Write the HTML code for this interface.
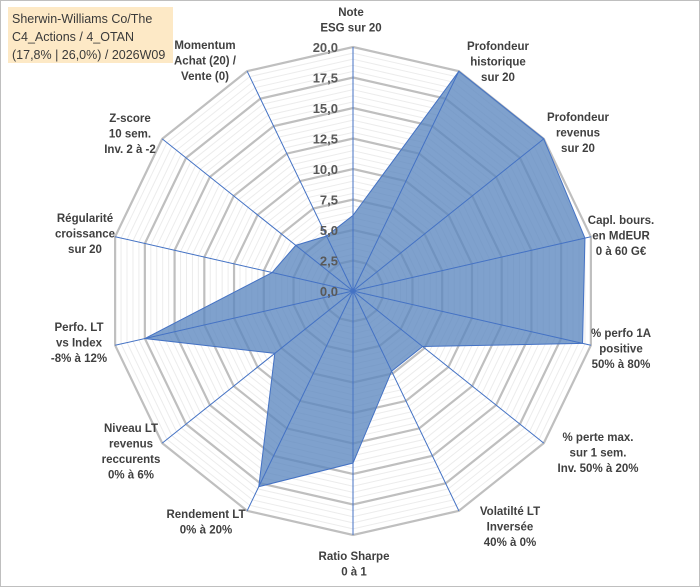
<!DOCTYPE html>
<html><head><meta charset="utf-8"><style>
body{margin:0;background:#fff}
#wrap{position:relative;width:700px;height:587px;overflow:hidden;font-family:"Liberation Sans",sans-serif}
svg{position:absolute;left:0;top:0}
.lbl{font-weight:bold;font-size:11.5px;fill:#404040}
.tick{font-weight:bold;font-size:13px;fill:#595959}
</style></head><body>
<div id="wrap">
<svg id="chart" width="700" height="587">
<rect x="0.5" y="0.5" width="699" height="586" fill="#fff" stroke="#bfbfbf"/>
<rect x="8" y="7" width="165" height="56" fill="#fde9c6"/>
<text x="12" y="23" font-size="12.5" fill="#3a3a3a">Sherwin-Williams Co/The</text>
<text x="12" y="41" font-size="12.5" fill="#3a3a3a">C4_Actions / 4_OTAN</text>
<text x="12" y="59" font-size="12.5" fill="#3a3a3a">(17,8% | 26,0%) / 2026W09</text>
<g id="grid"></g><g id="series"></g><g id="axes"></g><g id="ticks"></g><g id="labels"></g>
</svg>
</div>
<script>
const categories=[["Note","ESG sur 20"],["Profondeur","historique","sur 20"],["Profondeur","revenus","sur 20"],["Capl. bours.","en MdEUR","0 à 60 G€"],["% perfo 1A","positive","50% à 80%"],["% perte max.","sur 1 sem.","Inv. 50% à 20%"],["Volatilté LT","Inversée","40% à 0%"],["Ratio Sharpe","0 à 1"],["Rendement LT","0% à 20%"],["Niveau LT","revenus","reccurents","0% à 6%"],["Perfo. LT","vs Index","-8% à 12%"],["Régularité","croissance","sur 20"],["Z-score","10 sem.","Inv. 2 à -2"],["Momentum","Achat (20) /","Vente (0)"]];
const values=[6.2,20,20,19.5,19.3,7.3,7.3,14.1,17.8,8.2,17.5,6.8,6.0,5.0];
const tickLabels=["0,0","2,5","5,0","7,5","10,0","12,5","15,0","17,5","20,0"];
const labelPos=[[351,12],[498,46],[578,117],[621,220],[621,333],[598,437],[510,511],[354,556],[206,514],[131,428],[79,327],[85,218],[130,118],[205,45]];
const CX=353,CY=291,R=244,MAX=20,N=categories.length;
const NS="http://www.w3.org/2000/svg";
function pt(i,v){const a=2*Math.PI*i/N;const r=v/MAX*R;return [CX+r*Math.sin(a),CY-r*Math.cos(a)];}
function mk(tag,attrs,parent){const e=document.createElementNS(NS,tag);for(const k in attrs)e.setAttribute(k,attrs[k]);parent.appendChild(e);return e;}
const grid=document.getElementById('grid');
for(let k=1;k<=40;k++){const v=k*0.5;const major=(k%5===0);
 const p=[];for(let i=0;i<N;i++)p.push(pt(i,v).join(','));
 const e=mk('polygon',{points:p.join(' '),fill:'none',stroke:major?'#bfbfbf':'#ececec','stroke-width':major?2.2:1},grid);
 
 }
const ser=document.getElementById('series');
const sp=values.map((v,i)=>pt(i,v).join(',')).join(' ');
const poly=mk('polygon',{points:sp,fill:'#5b86bf','fill-opacity':0.78,stroke:'#4472c4','stroke-width':1},ser);


const ax=document.getElementById('axes');
for(let i=0;i<N;i++){const [x,y]=pt(i,MAX);
 const l=mk('line',{x1:CX,y1:CY,x2:x,y2:y,stroke:'#4472c4','stroke-width':1},ax);
 
 }
const tk=document.getElementById('ticks');
tickLabels.forEach((t,k)=>{const y=CY-k*2.5/MAX*R;
 const e=mk('text',{x:338,y:y+5,'text-anchor':'end',class:'tick'},tk);e.textContent=t;
 
 });
const lb=document.getElementById('labels');
categories.forEach((lines,i)=>{const [x,y]=labelPos[i];
 const t=mk('text',{x:x,y:y+4,'text-anchor':'middle',class:'lbl'},lb);
 
 
 lines.forEach((s,j)=>{const ts=mk('tspan',{x:x,dy:j?15.5:0},t);ts.textContent=s;});});
</script>
</body></html>
